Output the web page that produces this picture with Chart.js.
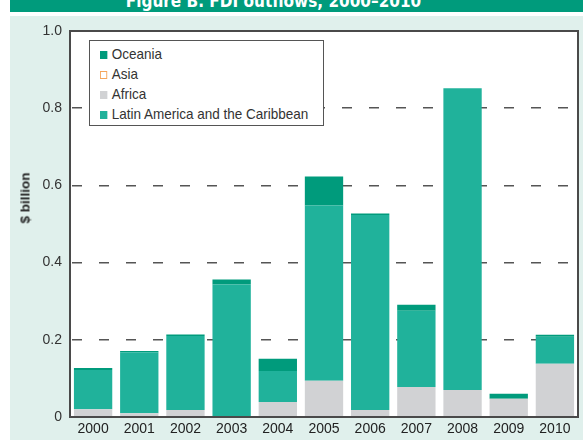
<!DOCTYPE html>
<html>
<head>
<meta charset="utf-8">
<script src="https://cdn.jsdelivr.net/npm/chart.js@4/dist/chart.umd.min.js"></script>
<style>
  html, body { margin: 0; padding: 0; background: #ffffff; }
  #wrap { position: relative; width: 583px; height: 440px; overflow: hidden; font-family: "Liberation Sans", Arial, sans-serif; }
  #bg { position: absolute; left: 10px; top: 16px; width: 573px; height: 424px; background: #e0f0ec; }
  #titlebar { position: absolute; left: 10px; top: 0; width: 573px; height: 12px; background: #009b7c; overflow: hidden; }
  #titlebar span { position: absolute; left: 0; width: 527px; text-align: center; top: -9px; color: #ffffff; font: bold 17px "DejaVu Sans Condensed", "Liberation Sans", sans-serif; white-space: nowrap; }
  #c { position: absolute; left: 0; top: 0; }
  #ytitle { position: absolute; left: 25px; top: 198px; transform: translate(-50%, -50%) rotate(-90deg); font: bold 13.5px "Liberation Sans", Arial, sans-serif; color: #222; white-space: nowrap; }
  #legend { position: absolute; left: 89px; top: 40px; width: 235px; height: 86px; border: 1px solid #555; background: #ffffff; box-sizing: border-box; }
  .li { position: absolute; left: 10px; height: 18px; line-height: 18px; font: 15px "Liberation Sans", Arial, sans-serif; color: #333; white-space: nowrap; transform: scaleX(0.9); transform-origin: 0 50%; }
  .sw { display: inline-block; width: 8px; height: 8px; margin-right: 5px; vertical-align: 0px; box-sizing: border-box; }
</style>
</head>
<body>
<div id="wrap">
  <div id="bg"></div>
  <div id="titlebar"><span id="ttl"></span></div>
  <canvas id="c" width="583" height="440"></canvas>
  <div id="ytitle">$ billion</div>
  <div id="legend"></div>
</div>
<script>
const titleText = "Figure B. FDI outflows, 2000–2010";
const years = ["2000","2001","2002","2003","2004","2005","2006","2007","2008","2009","2010"];
const africa  = [0.020, 0.010, 0.018, 0.000, 0.039, 0.094, 0.018, 0.078, 0.070, 0.047, 0.138];
const latinAmerica = [0.102, 0.158, 0.192, 0.343, 0.080, 0.454, 0.505, 0.197, 0.782, 0.000, 0.070];
const asia    = [0, 0, 0, 0, 0, 0, 0, 0, 0, 0, 0];
const oceania = [0.005, 0.003, 0.004, 0.013, 0.032, 0.075, 0.004, 0.016, 0.000, 0.013, 0.005];
const yTicks = [0, 0.2, 0.4, 0.6, 0.8, 1.0];
const yTickLabels = ["0", "0.2", "0.4", "0.6", "0.8", "1.0"];

document.getElementById("ttl").textContent = titleText;

const COL = {
  oceania: "#009b7c",
  asia: "#f5a55a",
  africa: "#d1d2d4",
  lac: "#20b29b"
};

const legendItems = [
  { label: "Oceania", fill: COL.oceania, border: COL.oceania },
  { label: "Asia", fill: "#ffffff", border: COL.asia },
  { label: "Africa", fill: COL.africa, border: COL.africa },
  { label: "Latin America and the Caribbean", fill: COL.lac, border: COL.lac }
];
const leg = document.getElementById("legend");
legendItems.forEach((it, i) => {
  const d = document.createElement("div");
  d.className = "li";
  d.style.top = (4 + i * 20) + "px";
  const s = document.createElement("span");
  s.className = "sw";
  s.style.background = it.fill;
  s.style.border = "1.5px solid " + it.border;
  d.appendChild(s);
  d.appendChild(document.createTextNode(it.label));
  leg.appendChild(d);
});

const plotBg = {
  id: "plotBg",
  beforeDraw(chart) {
    const { ctx, chartArea: a } = chart;
    ctx.save();
    ctx.fillStyle = "#ffffff";
    ctx.fillRect(a.left, a.top, a.right - a.left, a.bottom - a.top);
    ctx.restore();
  },
  afterDraw(chart) {
    const { ctx, chartArea: a } = chart;
    ctx.save();
    ctx.strokeStyle = "#4a4a4a";
    ctx.lineWidth = 2;
    ctx.strokeRect(a.left, a.top, a.right - a.left, a.bottom - a.top);
    ctx.restore();
  }
};

const bw = 0.83;
new Chart(document.getElementById("c"), {
  type: "bar",
  data: {
    labels: years,
    datasets: [
      { label: "Africa", data: africa, backgroundColor: COL.africa, barPercentage: bw, categoryPercentage: 1 },
      { label: "Latin America and the Caribbean", data: latinAmerica, backgroundColor: COL.lac, barPercentage: bw, categoryPercentage: 1 },
      { label: "Asia", data: asia, backgroundColor: COL.asia, barPercentage: bw, categoryPercentage: 1 },
      { label: "Oceania", data: oceania, backgroundColor: COL.oceania, barPercentage: bw, categoryPercentage: 1 }
    ]
  },
  options: {
    responsive: false,
    animation: false,
    layout: { padding: { top: 31, right: 5, left: 0, bottom: 0 } },
    plugins: { legend: { display: false }, tooltip: { enabled: false }, title: { display: false } },
    scales: {
      x: {
        stacked: true,
        grid: { display: false, drawTicks: false },
        border: { display: false },
        ticks: { color: "#222", font: { family: "Liberation Sans", size: 14 }, padding: 4, maxRotation: 0 },
        afterFit(s) { s.height = 23; }
      },
      y: {
        stacked: true,
        min: 0, max: 1.0,
        afterBuildTicks(s) { s.ticks = yTicks.map(v => ({ value: v })); },
        afterFit(s) { s.width = 70; },
        border: { display: false, dash: [10, 17], dashOffset: -2 },
        grid: {
          drawTicks: false,
          color: (c) => (c.tick && (c.tick.value === 0 || c.tick.value === 1)) ? "rgba(0,0,0,0)" : "#555",
          lineWidth: 1.5
        },
        ticks: {
          color: "#333",
          font: { family: "Liberation Sans", size: 14 },
          padding: 8,
          callback: (v, i) => yTickLabels[i]
        }
      }
    }
  },
  plugins: [plotBg]
});
</script>
</body>
</html>
